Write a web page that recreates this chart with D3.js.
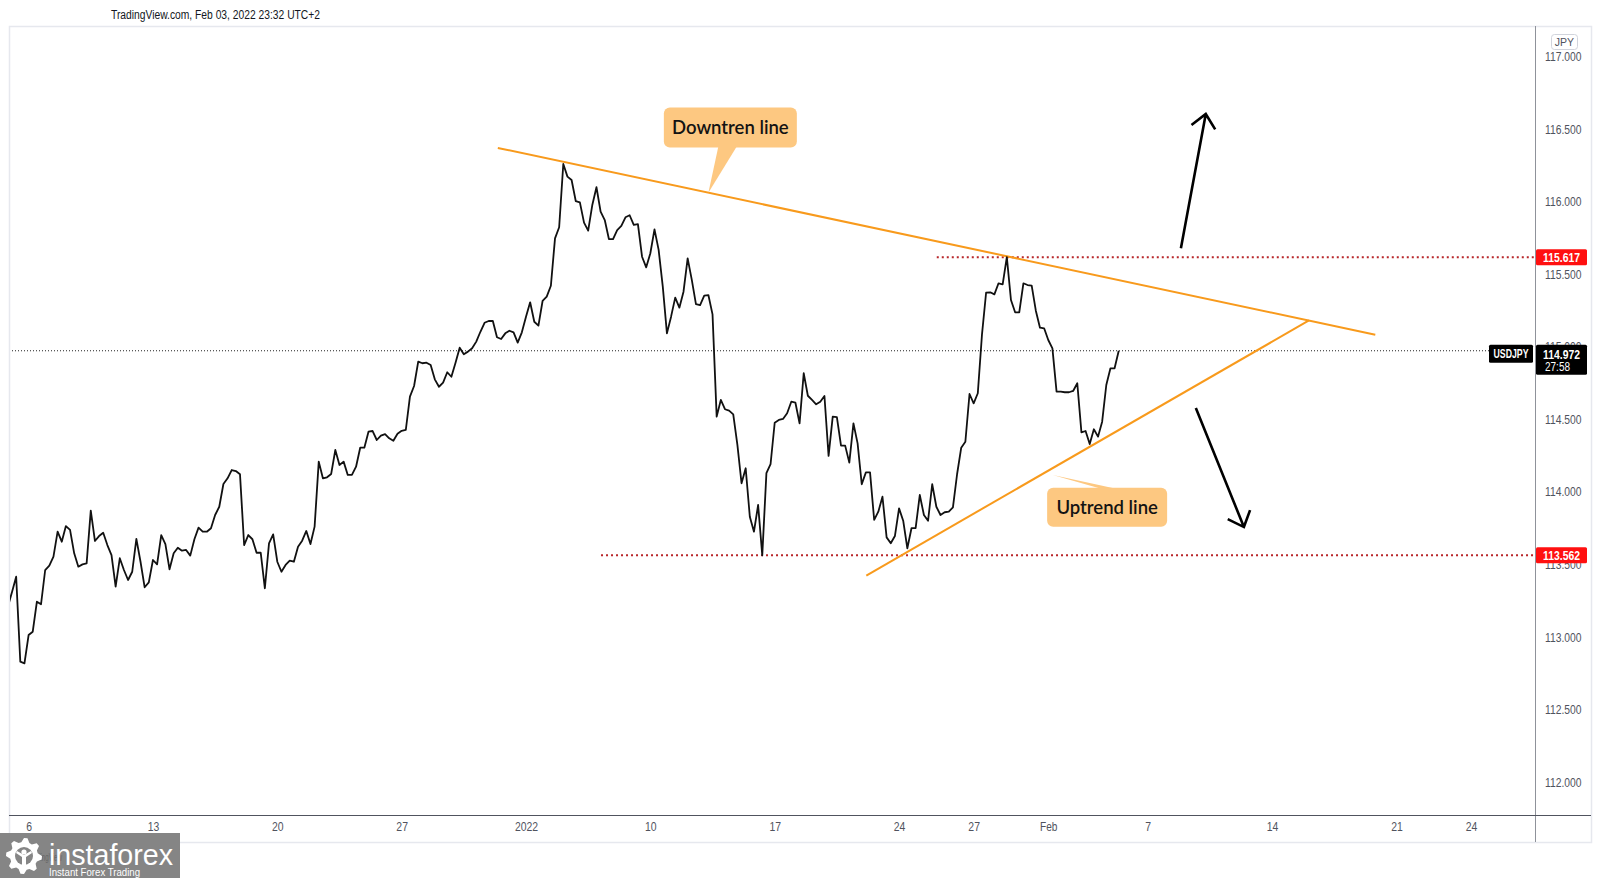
<!DOCTYPE html>
<html><head><meta charset="utf-8">
<script src="https://cdn.jsdelivr.net/npm/d3@7"></script>
<style>html,body{margin:0;padding:0;background:#fff;overflow:hidden}</style>
</head><body>
<svg id="chart" width="1600" height="878" xmlns="http://www.w3.org/2000/svg"></svg>
<script>
// ---------- DATA (USDJPY, 4-hour closes) ----------
// bar index counts 4h bars from Mon 6 Dec 2021 00:00 (6 bars per trading day)
const firstBar = -5;
const closes = [
113.208,113.31,113.415,112.829,112.818,
113.013,113.036,113.243,113.225,113.461,113.491,113.553,113.725,113.656,113.764,
113.737,113.576,113.484,113.500,113.507,113.870,113.661,113.695,113.718,113.633,
113.564,113.346,113.542,113.461,113.392,113.449,113.675,113.518,113.342,113.376,
113.530,113.500,113.702,113.640,113.466,113.576,113.615,113.594,113.599,113.560,
113.673,113.753,113.725,113.725,113.749,113.840,113.897,114.054,114.093,114.150,
114.143,114.121,113.633,113.702,113.673,113.580,113.580,113.335,113.645,113.707,
113.518,113.449,113.496,113.525,113.518,113.622,113.663,113.730,113.640,113.760,
114.208,114.093,114.100,114.123,114.288,114.185,114.208,114.116,114.116,114.173,
114.304,114.304,114.414,114.419,114.357,114.387,114.398,114.369,114.352,114.400,
114.420,114.426,114.656,114.729,114.897,114.886,114.890,114.874,114.775,114.724,
114.752,114.824,114.793,114.890,114.993,114.948,114.966,114.989,115.035,115.103,
115.165,115.177,115.177,115.065,115.053,115.092,115.110,115.099,115.028,115.099,
115.207,115.306,115.172,115.145,115.315,115.345,115.420,115.747,115.823,116.259,
116.172,116.149,116.004,115.995,115.855,115.800,115.977,116.099,115.931,115.873,
115.742,115.742,115.804,115.832,115.892,115.906,115.839,115.844,115.620,115.547,
115.644,115.809,115.667,115.414,115.092,115.207,115.338,115.269,115.379,115.609,
115.460,115.294,115.287,115.352,115.356,115.223,114.518,114.633,114.569,114.559,
114.534,114.323,114.059,114.162,113.828,113.725,113.909,113.562,114.128,114.190,
114.476,114.495,114.502,114.541,114.621,114.614,114.472,114.817,114.662,114.633,
114.603,114.621,114.660,114.247,114.518,114.514,114.318,114.318,114.201,114.472,
114.334,114.052,114.134,114.134,113.806,113.863,113.966,113.686,113.645,113.695,
113.886,113.801,113.611,113.749,113.749,113.978,113.840,113.801,114.052,113.897,
113.840,113.859,113.863,113.893,114.121,114.304,114.345,114.674,114.610,114.679,
115.081,115.372,115.375,115.361,115.437,115.430,115.617,115.322,115.237,115.237,
115.437,115.425,115.421,115.248,115.131,115.127,115.046,114.989,114.690,114.690,
114.686,114.686,114.695,114.748,114.410,114.419,114.329,114.431,114.380,114.483,
114.736,114.851,114.851,114.972
];
const symbol = "USDJPY";
const currency = "JPY";
const lastPrice = 114.972;
const countdown = "27:58";
const headerText = "TradingView.com, Feb 03, 2022 23:32 UTC+2";

const timeTickBars = [0,30,60,90,120,150,180,210,228,246,270,300,330,348];
const timeTickLabels = ["6","13","20","27","2022","10","17","24","27","Feb","7","14","21","24"];
const priceTicks = [112,112.5,113,113.5,114,114.5,115,115.5,116,116.5,117];

// horizontal levels: [price, start bar]
const levelPrices = [115.617, 113.562];
const levelStartBars = [219.1, 138.1];

// trend lines: [bar, price] endpoints
const downtrendLine = [[113.2,116.370],[324.9,115.083]];
const uptrendLine   = [[202.1,113.423],[308.9,115.181]];

// arrows: [bar, price] tail -> tip
const arrowUp   = [[278.0,115.678],[284.0,116.604]];
const arrowDown = [[281.6,114.578],[293.2,113.757]];

// callouts: text, tip [bar, price], box centre [bar, price]
const calloutTexts = ["Downtren line","Uptrend line"];
const calloutTips  = [[164.0,116.061],[247.1,114.116]];
const calloutBoxes = [[169.3,116.511],[260.2,113.894]];

// ---------- LAYOUT ----------
const svg = d3.select('#chart');
const paneL = 9, paneR = 1535, paneT = 26, paneB = 815, frameR = 1591, frameB = 842;
const x = d3.scaleLinear().domain([0,348]).range([28.6, 1471.06]);
const y = d3.scaleLinear().domain([112,117]).range([782, 56.5]);
const FONT = "'Liberation Sans','Arial',sans-serif";
const ORANGE = "#f89a1c";
const CALLOUT_FILL = "#fdc881";

svg.append('rect').attr('width',1600).attr('height',878).attr('fill','#fff');

// header
svg.append('text').attr('x',111).attr('y',18.5).text(headerText)
  .attr('font-family',FONT).attr('font-size',12).attr('fill','#131722')
  .attr('textLength',209).attr('lengthAdjust','spacingAndGlyphs');

// frame
svg.append('rect').attr('x',paneL+0.5).attr('y',paneT+0.5).attr('width',frameR-paneL).attr('height',frameB-paneT)
  .attr('fill','none').attr('stroke','#e6e8ee').attr('stroke-width',1.5);

const defs = svg.append('defs');
defs.append('clipPath').attr('id','pane').append('rect')
  .attr('x',paneL+1).attr('y',paneT+1).attr('width',paneR-paneL-1).attr('height',paneB-paneT-1);

const plot = svg.append('g').attr('clip-path','url(#pane)');

// last price dotted line
plot.append('line').attr('x1',paneL).attr('x2',1489).attr('y1',y(lastPrice)).attr('y2',y(lastPrice))
  .attr('stroke','#222').attr('stroke-width',1).attr('stroke-dasharray','1,2');

// levels
levelPrices.forEach((p,i)=>{
  plot.append('line').attr('x1',x(levelStartBars[i])).attr('x2',paneR)
    .attr('y1',y(p)).attr('y2',y(p))
    .attr('stroke','#b8262a').attr('stroke-width',2).attr('stroke-dasharray','2,3');
});

// trend lines
[downtrendLine, uptrendLine].forEach(l=>{
  plot.append('line').attr('x1',x(l[0][0])).attr('y1',y(l[0][1]))
    .attr('x2',x(l[1][0])).attr('y2',y(l[1][1]))
    .attr('stroke',ORANGE).attr('stroke-width',2);
});

// price line
const series = closes.map((c,i)=>({bar:firstBar+i, close:c}));
plot.append('path').datum(series)
  .attr('d', d3.line().x(d=>x(d.bar)).y(d=>y(d.close)))
  .attr('fill','none').attr('stroke','#111').attr('stroke-width',1.8).attr('stroke-linejoin','round');

// arrows
function arrow(a){
  const x0=x(a[0][0]), y0=y(a[0][1]), x1=x(a[1][0]), y1=y(a[1][1]);
  const dx=x0-x1, dy=y0-y1, len=Math.hypot(dx,dy), ux=dx/len, uy=dy/len;
  const th=42*Math.PI/180, L=18;
  const b1=[x1+L*(ux*Math.cos(th)-uy*Math.sin(th)), y1+L*(ux*Math.sin(th)+uy*Math.cos(th))];
  const b2=[x1+L*(ux*Math.cos(-th)-uy*Math.sin(-th)), y1+L*(ux*Math.sin(-th)+uy*Math.cos(-th))];
  plot.append('path').attr('d',`M${x0},${y0}L${x1},${y1}M${b1[0]},${b1[1]}L${x1},${y1}L${b2[0]},${b2[1]}`)
    .attr('fill','none').attr('stroke','#000').attr('stroke-width',2.6).attr('stroke-linecap','butt');
}
arrow(arrowUp); arrow(arrowDown);

// callouts
const boxW=[133,120], boxH=[40,39], baseOff=[[-12,6.4],[-6,9]];
calloutTexts.forEach((t,i)=>{
  const cx=x(calloutBoxes[i][0]), cy=y(calloutBoxes[i][1]);
  const tx=x(calloutTips[i][0]), ty=y(calloutTips[i][1]);
  const w=boxW[i], h=boxH[i];
  const baseY = ty<cy ? cy-h/2+1 : cy+h/2-1;
  const g=plot.append('g');
  g.append('path').attr('d',`M${cx+baseOff[i][0]},${baseY}L${tx},${ty}L${cx+baseOff[i][1]},${baseY}Z`).attr('fill',CALLOUT_FILL);
  g.append('rect').attr('x',cx-w/2).attr('y',cy-h/2).attr('width',w).attr('height',h).attr('rx',6).attr('fill',CALLOUT_FILL);
  g.append('text').attr('x',cx).attr('y',cy).attr('dy','0.35em').attr('text-anchor','middle')
    .attr('font-family',"'Lato','Open Sans',sans-serif").attr('font-weight',600).attr('font-size',18.5)
    .attr('fill','#131313').text(t);
});

// axes lines
svg.append('line').attr('x1',paneR+0.5).attr('x2',paneR+0.5).attr('y1',paneT).attr('y2',frameB)
  .attr('stroke','#8f929a').attr('stroke-width',1);
svg.append('line').attr('x1',paneL).attr('x2',frameR).attr('y1',paneB+0.5).attr('y2',paneB+0.5)
  .attr('stroke','#50535e').attr('stroke-width',1.2);

// y axis
const yAxis = svg.append('g').attr('transform',`translate(1545,0)`)
  .call(d3.axisRight(y).tickValues(priceTicks).tickFormat(d3.format('.3f')).tickSize(0).tickPadding(0));
yAxis.select('.domain').remove();
yAxis.selectAll('text').attr('font-family',FONT).attr('font-size',13).attr('fill','#50535e')
  .attr('textLength',36.5).attr('lengthAdjust','spacingAndGlyphs');

// x axis
const xAxis = svg.append('g').attr('transform',`translate(0,${paneB})`)
  .call(d3.axisBottom(x).tickValues(timeTickBars).tickFormat((d,i)=>timeTickLabels[i]).tickSize(0).tickPadding(7));
xAxis.select('.domain').remove();
xAxis.selectAll('text').attr('font-family',FONT).attr('font-size',13).attr('fill','#50535e')
  .each(function(d,i){ const t=timeTickLabels[i]; d3.select(this).attr('textLength', t.length*5.8).attr('lengthAdjust','spacingAndGlyphs'); });

// currency tag
svg.append('rect').attr('x',1551.5).attr('y',34.5).attr('width',26).attr('height',15).attr('rx',3)
  .attr('fill','#fff').attr('stroke','#d1d4dc');
svg.append('text').attr('x',1564.5).attr('y',42).attr('dy','0.35em').attr('text-anchor','middle')
  .attr('font-family',FONT).attr('font-size',10.5).attr('fill','#50535e').text(currency);

// level labels
levelPrices.forEach(p=>{
  svg.append('rect').attr('x',1536).attr('y',y(p)-8).attr('width',51).attr('height',16).attr('rx',1.5).attr('fill','#ff1010');
  svg.append('text').attr('x',1561.5).attr('y',y(p)).attr('dy','0.36em').attr('text-anchor','middle')
    .attr('font-family',FONT).attr('font-weight',700).attr('font-size',12.5).attr('fill','#fff')
    .attr('textLength',37).attr('lengthAdjust','spacingAndGlyphs').text(p.toFixed(3));
});

// last price labels
const yl = y(lastPrice);
svg.append('rect').attr('x',1489).attr('y',yl-6).attr('width',44).attr('height',18).attr('rx',1.5).attr('fill','#000');
svg.append('text').attr('x',1511).attr('y',yl+3).attr('dy','0.36em').attr('text-anchor','middle')
  .attr('font-family',FONT).attr('font-weight',700).attr('font-size',12).attr('fill','#fff')
  .attr('textLength',35).attr('lengthAdjust','spacingAndGlyphs').text(symbol);
svg.append('rect').attr('x',1536).attr('y',yl-6).attr('width',51).attr('height',30).attr('rx',1.5).attr('fill','#000');
svg.append('text').attr('x',1561.5).attr('y',yl+4).attr('dy','0.36em').attr('text-anchor','middle')
  .attr('font-family',FONT).attr('font-weight',700).attr('font-size',12.5).attr('fill','#fff')
  .attr('textLength',37).attr('lengthAdjust','spacingAndGlyphs').text(lastPrice.toFixed(3));
svg.append('text').attr('x',1545).attr('y',yl+16).attr('dy','0.36em')
  .attr('font-family',FONT).attr('font-size',12).attr('fill','#fff')
  .attr('textLength',25).attr('lengthAdjust','spacingAndGlyphs').text(countdown);

// instaforex watermark
const logo = svg.append('g');
logo.append('rect').attr('x',0).attr('y',833).attr('width',180).attr('height',45).attr('fill','#858585');
logo.append('text').attr('x',28).attr('y',861).attr('font-family',FONT).attr('font-size',10)
  .attr('fill','#4a4a4a').attr('opacity',0.5).attr('textLength',34).attr('lengthAdjust','spacingAndGlyphs').text('TradingView');
// gear
const gc=[24,856], teeth=8;
let gp='';
for(let k=0;k<teeth*4;k++){
  const a=(k/(teeth*4))*2*Math.PI - Math.PI/2;
  const r=(k%4===0||k%4===1)?18:14;
  gp += (k===0?'M':'L') + (gc[0]+r*Math.cos(a)).toFixed(1)+','+(gc[1]+r*Math.sin(a)).toFixed(1);
}
gp+='Z';
logo.append('path').attr('d',gp).attr('fill','#fff');
logo.append('circle').attr('cx',gc[0]).attr('cy',gc[1]).attr('r',9).attr('fill','#858585');
logo.append('circle').attr('cx',gc[0]).attr('cy',gc[1]-4).attr('r',2.6).attr('fill','#fff');
logo.append('path').attr('d',`M${gc[0]-8},${gc[1]-3}L${gc[0]-2},${gc[1]+1}L${gc[0]-2},${gc[1]+14}L${gc[0]+2},${gc[1]+14}L${gc[0]+2},${gc[1]+1}L${gc[0]+8},${gc[1]-3}L${gc[0]+7},${gc[1]-5}L${gc[0]},${gc[1]-1}L${gc[0]-7},${gc[1]-5}Z`).attr('fill','#fff');
logo.append('text').attr('x',49).attr('y',865).attr('font-family',FONT).attr('font-size',30)
  .attr('fill','#fff').attr('textLength',124).attr('lengthAdjust','spacingAndGlyphs').text('instaforex');
logo.append('text').attr('x',49).attr('y',876).attr('font-family',FONT).attr('font-size',10)
  .attr('fill','#fff').attr('textLength',91).attr('lengthAdjust','spacingAndGlyphs').text('Instant Forex Trading');
</script>
</body></html>
